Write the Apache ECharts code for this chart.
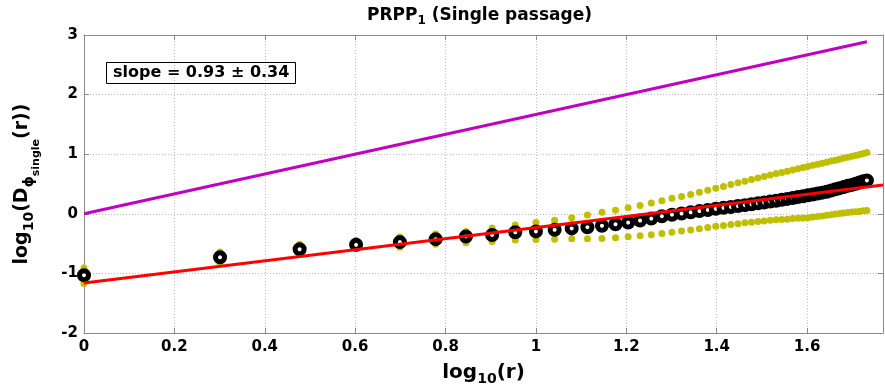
<!DOCTYPE html>
<html><head><meta charset="utf-8">
<script src="https://cdn.jsdelivr.net/npm/echarts@6/dist/echarts.min.js"></script>
<style>html,body{margin:0;padding:0;background:#fff}#c{width:885px;height:391px}</style>
</head><body><div id="c"></div>
<script>
// separation r (pixels) and the single-passage structure function (log10)
const rValues = [1,2,3,4,5,6,7,8,9,10,11,12,13,14,15,16,17,18,19,20,21,22,23,24,25,26,27,28,29,30,31,32,33,34,35,36,37,38,39,40,41,42,43,44,45,46,47,48,49,50,51,52,53,54];
const meanVals = [-1.03,-0.73,-0.595,-0.52,-0.475,-0.425,-0.38,-0.355,-0.31,-0.295,-0.267,-0.245,-0.225,-0.20,-0.175,-0.147,-0.112,-0.08,-0.04,-0.015,0.005,0.025,0.045,0.065,0.085,0.10,0.115,0.13,0.145,0.16,0.175,0.19,0.205,0.22,0.235,0.25,0.265,0.28,0.295,0.31,0.325,0.34,0.355,0.37,0.39,0.41,0.43,0.45,0.47,0.485,0.505,0.525,0.545,0.56];
const upperVals = [-0.91,-0.64,-0.51,-0.45,-0.39,-0.34,-0.295,-0.24,-0.19,-0.147,-0.11,-0.065,-0.02,0.025,0.06,0.10,0.14,0.18,0.22,0.26,0.29,0.325,0.36,0.395,0.43,0.46,0.49,0.52,0.545,0.575,0.60,0.625,0.65,0.675,0.695,0.715,0.735,0.755,0.775,0.795,0.815,0.83,0.85,0.865,0.885,0.90,0.915,0.935,0.95,0.965,0.98,0.995,1.01,1.03];
const lowerVals = [-1.17,-0.82,-0.68,-0.58,-0.56,-0.51,-0.485,-0.465,-0.44,-0.43,-0.425,-0.42,-0.42,-0.415,-0.40,-0.385,-0.37,-0.35,-0.33,-0.31,-0.29,-0.27,-0.25,-0.23,-0.21,-0.195,-0.18,-0.165,-0.15,-0.14,-0.13,-0.12,-0.11,-0.10,-0.095,-0.09,-0.08,-0.075,-0.07,-0.065,-0.055,-0.045,-0.035,-0.025,-0.015,-0.005,0.005,0.015,0.02,0.03,0.035,0.04,0.05,0.055];
// reference slope 5/3 line and linear fit line
const refLineX = [0, 1.7324];
const refLineY = [0, 2.887];
const fitX = [0, 1.768];
const fitY = [-1.16, 0.485];
const xMin = 0, xMax = 1.768, xStep = 0.2;
const yMin = -2, yMax = 3, yStep = 1;
const titleMain = 'PRPP';
const titleSub = '1';
const titleRest = ' (Single passage)';
const slopeText = 'slope = 0.93 \u00b1 0.34';

const FONT = 'DejaVu Sans';
const pts = (ys) => rValues.map((r, i) => [Math.log10(r), ys[i]]);
const pair = (xs, ys) => xs.map((x, i) => [x, ys[i]]);

const axisCommon = {
  axisLine: {show: true, onZero: false, lineStyle: {color: '#8a8a8a', width: 1}},
  axisTick: {show: true, inside: true, length: 5, lineStyle: {color: '#8a8a8a'}},
};
const labelStyle = {color: '#000', fontFamily: FONT, fontWeight: 'bold', fontSize: 15};
const splitDotted = {show: true, lineStyle: {color: '#bdbdbd', type: [1, 2], width: 1}};
// top-aligned rich token pushed down by a top padding (for subscripts)
const tok = (size, drop) => ({fontFamily: FONT, fontWeight: 'bold', fontSize: size, color: '#000',
  verticalAlign: 'top', padding: [drop, 0, 0, 0]});

const chart = echarts.init(document.getElementById('c'), null, {renderer: 'canvas'});
chart.setOption({
  backgroundColor: '#fff',
  animation: false,
  title: [{
    text: '{a|' + titleMain + '}{s|' + titleSub + '}{a|' + titleRest + '}',
    left: 362, top: 2,
    textStyle: {rich: {a: tok(17, 0), s: tok(12, 8)}}
  }, {
    text: slopeText,
    left: 106, top: 62,
    padding: [3, 6, 3, 7],
    borderColor: '#000', borderWidth: 1,
    textStyle: {fontFamily: FONT, fontWeight: 'bold', fontSize: 16, color: '#000', lineHeight: 16}
  }],
  grid: {left: 84, right: 2, top: 35, bottom: 52, containLabel: false},
  xAxis: [{
    type: 'value', min: xMin, max: xMax, interval: xStep, position: 'bottom',
    ...axisCommon,
    splitLine: splitDotted,
    axisLabel: {...labelStyle, margin: 7, showMaxLabel: false,
      formatter: v => (Math.abs(v / xStep - Math.round(v / xStep)) < 1e-6 ? String(+v.toFixed(1)) : '')},
    name: '{a|log}{s|10}{a|(r)}', nameLocation: 'middle', nameGap: 27,
    nameTextStyle: {rich: {
      a: {fontFamily: FONT, fontWeight: 'bold', fontSize: 20, color: '#000', lineHeight: 26, verticalAlign: 'middle'},
      s: {fontFamily: FONT, fontWeight: 'bold', fontSize: 14, color: '#000', lineHeight: 14, verticalAlign: 'bottom'}
    }}
  }, {
    type: 'value', min: xMin, max: xMax, interval: xStep, position: 'top',
    ...axisCommon, splitLine: {show: false}, axisLabel: {show: false}
  }],
  yAxis: [{
    type: 'value', min: yMin, max: yMax, interval: yStep, position: 'left',
    ...axisCommon,
    splitLine: splitDotted,
    axisLabel: {...labelStyle, margin: 6},
    name: '{a|log}{s|10}{a|(D}{s|\u03d5}{t|single}{a|(r))}', nameLocation: 'middle', nameRotate: 90, nameGap: 42,
    nameTextStyle: {rich: {a: tok(19, 0), s: tok(14, 9), t: tok(11, 18)}}
  }, {
    type: 'value', min: yMin, max: yMax, interval: yStep, position: 'right',
    ...axisCommon, splitLine: {show: false}, axisLabel: {show: false}
  }],
  series: [
    {type: 'scatter', data: pts(lowerVals), symbol: 'circle', symbolSize: 7,
     itemStyle: {color: '#bfbf00', opacity: 1}, z: 2, silent: true},
    {type: 'scatter', data: pts(upperVals), symbol: 'circle', symbolSize: 7,
     itemStyle: {color: '#bfbf00', opacity: 1}, z: 2, silent: true},
    {type: 'scatter', data: pts(meanVals), symbol: 'circle', symbolSize: 9,
     itemStyle: {color: '#fff', borderColor: '#000', borderWidth: 5, opacity: 1}, z: 3, silent: true},
    {type: 'line', data: pair(fitX, fitY), symbol: 'none', lineStyle: {color: '#ff0000', width: 3}, z: 4, silent: true},
    {type: 'line', data: pair(refLineX, refLineY), symbol: 'none', lineStyle: {color: '#c000c0', width: 3}, z: 4, silent: true}
  ]
});
</script></body></html>
